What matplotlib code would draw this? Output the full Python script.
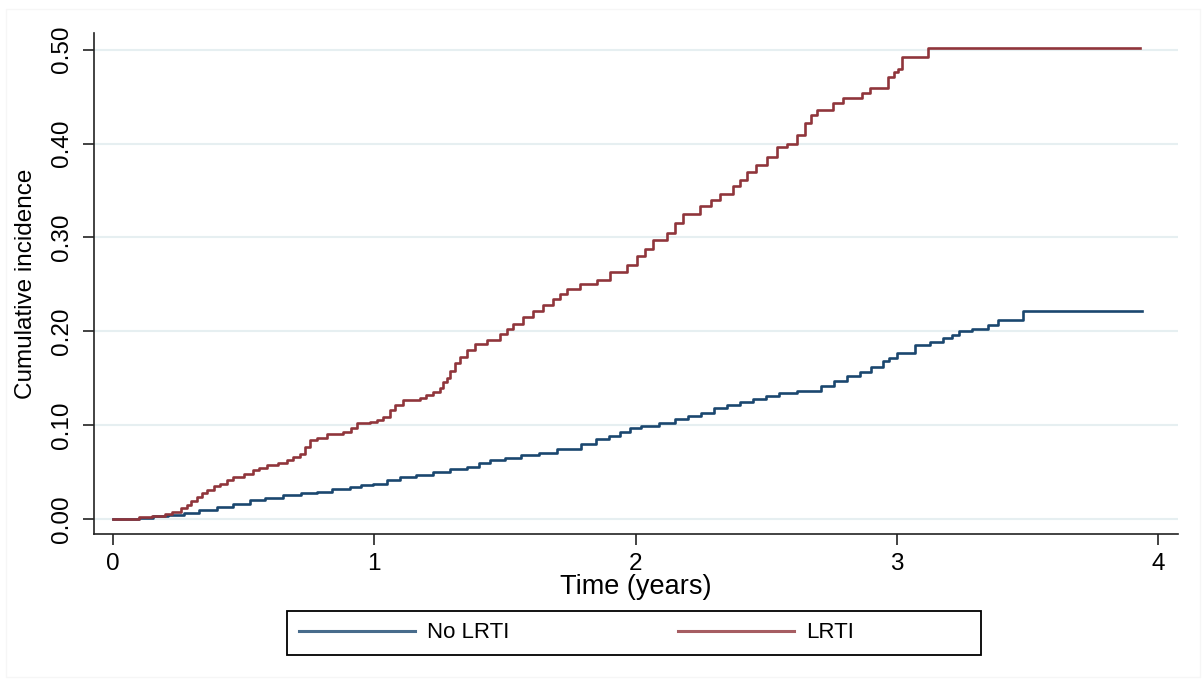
import matplotlib
matplotlib.use("Agg")
import matplotlib.pyplot as plt
from matplotlib.patches import Rectangle
from matplotlib.lines import Line2D

plt.rcParams['font.family'] = ['Liberation Sans', 'DejaVu Sans']

# ---- data ----
lrti_t = [0, 0.10, 0.15, 0.20, 0.225, 0.26, 0.283, 0.30, 0.32, 0.34, 0.36, 0.385,
          0.41, 0.435, 0.46, 0.50, 0.536, 0.56, 0.589, 0.63, 0.666, 0.69, 0.716,
          0.735, 0.754, 0.78, 0.819, 0.85, 0.88, 0.91, 0.934, 0.984, 1.01, 1.033,
          1.06, 1.08, 1.11, 1.175, 1.20, 1.225, 1.25, 1.263, 1.278, 1.29, 1.31,
          1.328, 1.355, 1.385, 1.43, 1.481, 1.51, 1.531, 1.57, 1.607, 1.645, 1.684,
          1.71, 1.737, 1.787, 1.852, 1.902, 1.967, 2.005, 2.035, 2.067, 2.12, 2.15,
          2.181, 2.247, 2.29, 2.323, 2.373, 2.40, 2.426, 2.46, 2.503, 2.541, 2.579,
          2.618, 2.648, 2.67, 2.694, 2.755, 2.794, 2.866, 2.897, 2.966, 2.99, 3.004,
          3.02, 3.12, 3.93]
lrti_ci = [0, 0.002, 0.003, 0.006, 0.008, 0.012, 0.015, 0.019, 0.024, 0.028, 0.031,
           0.035, 0.038, 0.042, 0.045, 0.048, 0.052, 0.055, 0.058, 0.060, 0.063,
           0.066, 0.070, 0.077, 0.084, 0.087, 0.091, 0.091, 0.093, 0.097, 0.102,
           0.104, 0.106, 0.109, 0.116, 0.122, 0.127, 0.129, 0.132, 0.135, 0.140,
           0.146, 0.150, 0.158, 0.166, 0.173, 0.180, 0.187, 0.191, 0.197, 0.203,
           0.208, 0.215, 0.222, 0.228, 0.234, 0.240, 0.245, 0.250, 0.255, 0.263,
           0.271, 0.280, 0.288, 0.297, 0.305, 0.315, 0.325, 0.333, 0.340, 0.346,
           0.355, 0.361, 0.370, 0.377, 0.386, 0.396, 0.399, 0.409, 0.422, 0.430,
           0.436, 0.443, 0.449, 0.454, 0.459, 0.471, 0.476, 0.479, 0.492, 0.502,
           0.502]

nolrti_t = [0, 0.10, 0.153, 0.21, 0.27, 0.33, 0.40, 0.46, 0.524, 0.58, 0.65, 0.72,
            0.78, 0.84, 0.906, 0.95, 0.995, 1.05, 1.098, 1.16, 1.225, 1.29, 1.355,
            1.40, 1.443, 1.50, 1.56, 1.63, 1.70, 1.79, 1.85, 1.90, 1.94, 1.98, 2.02,
            2.09, 2.15, 2.20, 2.25, 2.30, 2.35, 2.40, 2.45, 2.50, 2.55, 2.62, 2.71,
            2.76, 2.81, 2.86, 2.90, 2.947, 2.97, 3.0, 3.07, 3.127, 3.177, 3.21, 3.24,
            3.287, 3.349, 3.387, 3.483, 3.94]
nolrti_ci = [0, 0.001, 0.003, 0.005, 0.007, 0.010, 0.013, 0.016, 0.020, 0.023, 0.026,
             0.028, 0.029, 0.032, 0.034, 0.036, 0.038, 0.042, 0.045, 0.047, 0.050,
             0.053, 0.056, 0.060, 0.063, 0.065, 0.068, 0.071, 0.075, 0.080, 0.085,
             0.089, 0.093, 0.097, 0.099, 0.102, 0.107, 0.110, 0.113, 0.118, 0.122,
             0.125, 0.128, 0.131, 0.134, 0.137, 0.142, 0.147, 0.152, 0.157, 0.162,
             0.169, 0.172, 0.177, 0.186, 0.189, 0.193, 0.196, 0.200, 0.203, 0.207,
             0.212, 0.222, 0.222]

x_ticks = [0, 1, 2, 3, 4]
y_ticks = [0.0, 0.1, 0.2, 0.3, 0.4, 0.5]
y_tick_labels = ["0.00", "0.10", "0.20", "0.30", "0.40", "0.50"]
series_labels = ["No LRTI", "LRTI"]

# ---- styling ----
BLUE = "#1a476f"
RED = "#90353b"
W, H = 1203, 679
fig = plt.figure(figsize=(W / 100, H / 100), dpi=100)
fig.patch.set_facecolor("white")

# faint outer graph border
fig.patches.append(Rectangle((6 / W, 1 - 677 / H), (1200 - 6) / W, (677 - 9) / H,
                             transform=fig.transFigure, fill=False,
                             edgecolor="#f6f6f6", linewidth=1.0))

ax = fig.add_axes([94 / W, 1 - 534 / H, (1178 - 94) / W, (534 - 33) / H])
ax.set_xlim(-0.0727, 4.0765)
ax.set_ylim(-0.0157, 0.5177)

for s in ["top", "right"]:
    ax.spines[s].set_visible(False)
for s in ["left", "bottom"]:
    ax.spines[s].set_linewidth(1.2)
    ax.spines[s].set_color("#222222")

ax.set_yticks(y_ticks)
ax.set_yticklabels(y_tick_labels, rotation=90, va="center")
ax.set_xticks(x_ticks)
ax.tick_params(axis="both", labelsize=17.5, length=8, width=1.2, color="#222222",
               direction="out")
ax.tick_params(axis="y", pad=7)
ax.tick_params(axis="x", pad=6)

ax.grid(axis="y", color="#e6eff1", linewidth=1.5)
ax.set_axisbelow(True)

ax.plot(nolrti_t, nolrti_ci, drawstyle="steps-post", color=BLUE, linewidth=1.9)
ax.plot(lrti_t, lrti_ci, drawstyle="steps-post", color=RED, linewidth=1.9)

ax.set_xlabel("Time (years)", fontsize=19.5)
ax.xaxis.set_label_coords(0.5, -0.080)
ax.set_ylabel("Cumulative incidence", fontsize=17.5)
ax.yaxis.set_label_coords((37 - 94) / (1178 - 94), 0.5)

# legend box
fig.patches.append(Rectangle((287 / W, 1 - 655 / H), (981 - 287) / W, (655 - 611) / H,
                             transform=fig.transFigure, fill=False,
                             edgecolor="black", linewidth=1.3))
handles = [Line2D([], [], color=BLUE, linewidth=2.2, alpha=0.8),
           Line2D([], [], color=RED, linewidth=2.2, alpha=0.8)]
fig.legend(handles, series_labels, loc="center left",
           bbox_to_anchor=(299 / W, 1 - 633 / H), ncol=2, frameon=False,
           fontsize=16, handlelength=5.2, handletextpad=0.55,
           columnspacing=7.6, borderpad=0.0, borderaxespad=0.0)

fig.savefig("out.png", dpi=100)
